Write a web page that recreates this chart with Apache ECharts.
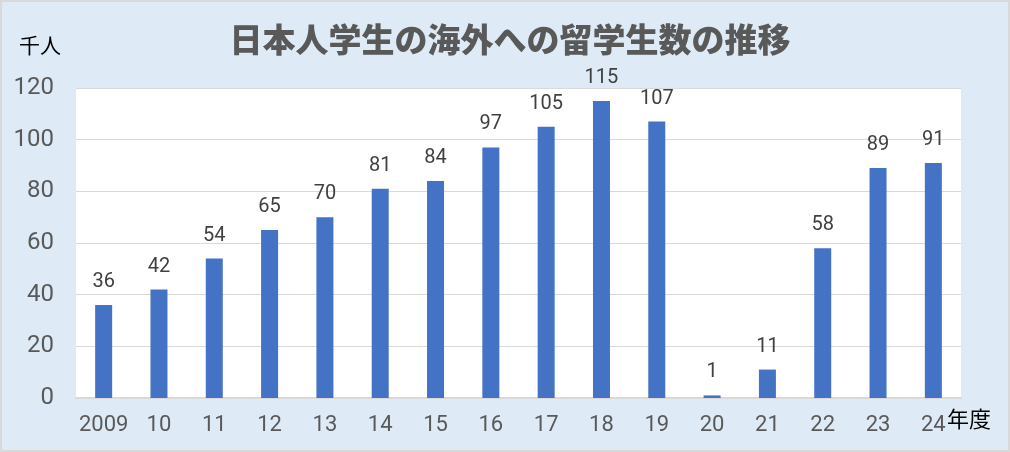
<!DOCTYPE html>
<html><head><meta charset="utf-8">
<script src="https://cdn.jsdelivr.net/npm/echarts@6/dist/echarts.min.js"></script>
<style>
html,body{margin:0;padding:0;background:#d9d9d9;}
#c{position:absolute;left:2px;top:2px;width:1006px;height:448px;background:#deebf7;}
</style></head>
<body><div id="c"></div>
<script>
const categories = ['2009','10','11','12','13','14','15','16','17','18','19','20','21','22','23','24'];
const values = [36,42,54,65,70,81,84,97,105,115,107,1,11,58,89,91];
const titleText = '日本人学生の海外への留学生数の推移';
const yUnit = '千人';
const xUnit = '年度';

const chart = echarts.init(document.getElementById('c'));
chart.setOption({
  backgroundColor: '#deebf7',
  animation: false,
  title: {
    text: titleText, left: 503, top: 16, textAlign: 'center',
    textStyle: {fontFamily: 'Noto Sans CJK JP', fontWeight: 900, fontSize: 33, color: '#595959'}
  },
  graphic: [
    {type: 'text', left: 17, top: 33, style: {text: yUnit, fontFamily: 'Noto Sans CJK JP', fontSize: 21, fill: '#000'}},
    {type: 'text', left: 945, top: 406, style: {text: xUnit, fontFamily: 'Noto Sans CJK JP', fontSize: 22, fill: '#000'}}
  ],
  grid: {left: 74, right: 47, top: 86, bottom: 52, backgroundColor: '#ffffff', show: true, borderWidth: 0},
  xAxis: {
    type: 'category', data: categories,
    axisLine: {lineStyle: {color: '#d9d9d9', width: 2}},
    axisTick: {show: false},
    axisLabel: {color: '#595959', fontSize: 22, fontFamily: 'Roboto', margin: 16, interval: 0, hideOverlap: false}
  },
  yAxis: {
    type: 'value', min: 0, max: 120, interval: 20,
    axisLine: {show: false}, axisTick: {show: false},
    splitLine: {lineStyle: {color: '#d9d9d9', width: 1}},
    axisLabel: {color: '#595959', fontSize: 24, fontFamily: 'Roboto', margin: 22}
  },
  series: [{
    type: 'bar', data: values, barWidth: 17,
    itemStyle: {color: '#4472c4'},
    label: {show: true, position: 'top', distance: 13, color: '#404040', fontSize: 20, fontFamily: 'Roboto'}
  }]
});
</script></body></html>
